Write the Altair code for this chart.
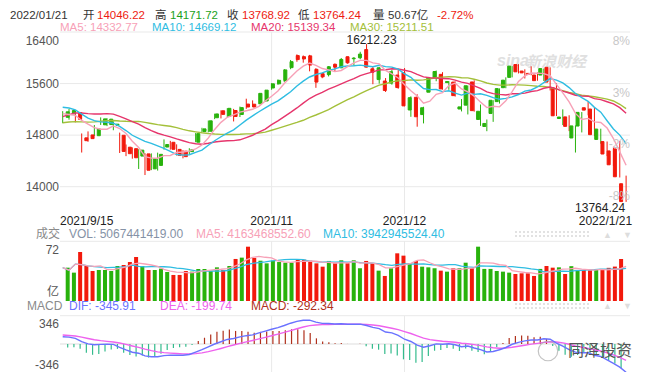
import altair as alt
import pandas as pd

# ---------------- data (NASDAQ Composite daily, 2021/9/15 - 2022/1/21) ----------------
earlier_closes = [14761.29, 14780.53, 14895.12, 14835.76, 14860.18, 14788.09, 14765.14, 14816.26,
                  14822.90, 14793.76, 14656.18, 14525.91, 14541.79, 14714.66, 14942.65, 15019.80,
                  15041.86, 14945.81, 15129.50, 15265.89, 15259.24, 15309.38, 15331.18, 15363.52,
                  15374.33, 15286.64, 15248.25, 15115.49, 15105.58, 15037.76]

opens = [15076, 15130, 15151, 14758, 14803, 14791, 14960, 14964, 14953, 14798,
         14613, 14590, 14475, 14509, 14277, 14330, 14615, 14689, 14579, 14551,
         14544, 14690, 14857, 14860, 15070, 15178, 15093, 15182, 15120, 15282,
         15280, 15287, 15330, 15531, 15596, 15648, 15847, 16034, 16017, 16030,
         15821, 15753, 15738, 15899, 15845, 16016, 15985, 16000, 16127, 15829,
         15662, 15640, 15607, 15732, 15770, 15190, 15387, 15119, 15466, 15693,
         15743, 15615, 15623, 15205, 15265, 15625, 15043, 14934, 15136, 15320,
         15536, 15696, 15895, 15794, 15758, 15733, 15732, 15852, 15535, 15058,
         15083, 14756, 14941, 15225, 15205, 14733, 14700, 14555, 14586, 14046.22]
highs = [15172, 15205, 15175, 14826, 14858, 14957, 15075, 15063, 15012, 14839,
         14655, 14610, 14581, 14520, 14517, 14528, 14734, 14711, 14657, 14568,
         14597, 14832, 14914, 15027, 15133, 15185, 15218, 15207, 15243, 15365,
         15339, 15451, 15503, 15604, 15664, 15824, 15966, 16053, 16036, 16045,
         15838, 15768, 15870, 15911, 15997, 16018, 16011, 16093, 16212.23, 15867,
         15852, 15685, 15812, 15810, 15840, 15402, 15434, 15240, 15700, 15802,
         15777, 15637, 15634, 15360, 15570, 15650, 15275, 15043, 15342, 15525,
         15697, 15871, 15901, 15821, 15868, 15772, 15833, 15852, 15609, 15200,
         15108, 14951, 15158, 15319, 15225, 14900, 14701, 14620, 14710, 14171.72]
lows = [14985, 15040, 14998, 14530, 14697, 14788, 14958, 14940, 14876, 14523,
        14474, 14435, 14275, 14181, 14257, 14250, 14575, 14575, 14484, 14440,
        14507, 14690, 14846, 14844, 15048, 15059, 15079, 15012, 15081, 15208,
        15235, 15280, 15317, 15504, 15581, 15622, 15823, 15938, 15924, 15790,
        15534, 15683, 15711, 15787, 15840, 15908, 15877, 15977, 15852, 15590,
        15600, 15470, 15583, 15520, 15248, 15084, 14931, 14982, 15466, 15636,
        15505, 15504, 15398, 15168, 15121, 15164, 14944, 14861, 15006, 15290,
        15528, 15696, 15757, 15679, 15729, 15644, 15640, 15493, 15096, 14956,
        14862, 14530, 14842, 15107, 14785, 14667, 14475, 14320, 14143, 13764.24]
closes = [15162, 15182, 15044, 14714, 14746, 14897, 15052, 15048, 14970, 14547,
          14512, 14449, 14567, 14255, 14434, 14502, 14654, 14580, 14486, 14466,
          14572, 14823, 14897, 15022, 15129, 15122, 15216, 15090, 15227, 15236,
          15236, 15448, 15498, 15596, 15650, 15812, 15940, 15972, 15982, 15887,
          15623, 15704, 15861, 15854, 15974, 15922, 15994, 16057, 15855, 15775,
          15845, 15492, 15783, 15538, 15254, 15381, 15085, 15225, 15687, 15787,
          15517, 15631, 15413, 15238, 15566, 15180, 15170, 14981, 15341, 15522,
          15653, 15871, 15782, 15766, 15742, 15645, 15833, 15623, 15100, 15081,
          14936, 14943, 15153, 15188, 14807, 14894, 14507, 14340, 14154, 13768.92]
# volume in 亿 (1e8)
volumes = [40.2, 34.2, 59.1, 42.2, 36.2, 37.4, 37.4, 36.2, 42.2, 43.4,
           47.0, 53.1, 42.2, 37.4, 37.4, 39.0, 35.0, 31.4, 31.4, 36.2,
           35.4, 38.6, 38.6, 36.2, 40.6, 37.4, 42.2, 50.7, 52.3, 65.5,
           51.9, 48.6, 45.4, 48.6, 47.0, 46.2, 46.2, 49.8, 49.8, 48.6,
           45.4, 41.4, 48.3, 45.5, 49.1, 45.5, 49.1, 39.5, 48.3, 45.5,
           36.6, 30.2, 39.5, 57.5, 54.7, 45.5, 48.3, 41.4, 40.6, 39.5,
           36.6, 35.4, 39.5, 39.5, 46.2, 39.5, 65.5, 38.7, 38.7, 36.2,
           35.4, 34.2, 32.6, 33.4, 33.4, 30.2, 38.7, 42.2, 40.2, 40.6,
           32.6, 42.0, 37.0, 37.5, 37.0, 37.5, 38.5, 40.0, 41.5, 50.67]

price_ticks = [16400, 15600, 14800, 14000]
pct_labels = ["8%", "3%", "-2%", "-8%"]
date_labels = ["2021/9/15", "2021/11", "2021/12", "2022/1/21"]
date_index = [0, 33, 54, 89]

# ---------------- derived indicators ----------------
k = len(earlier_closes)
allc = pd.Series(earlier_closes + closes, dtype=float)
def ma(w):
    return allc.rolling(w, min_periods=1).mean().iloc[k:].to_list()
ema12 = allc.ewm(span=12, adjust=False).mean()
ema26 = allc.ewm(span=26, adjust=False).mean()
dif_all = ema12 - ema26
dea_all = dif_all.ewm(span=9, adjust=False).mean()
dif = dif_all.iloc[k:].to_list()
dea = dea_all.iloc[k:].to_list()
vol = pd.Series(volumes)

n = len(closes)
df = pd.DataFrame({
    "i": list(range(n)), "o": opens, "h": highs, "l": lows, "c": closes, "v": volumes,
    "ma5": ma(5), "ma10": ma(10), "ma20": ma(20), "ma30": ma(30),
    "vma5": vol.rolling(5, min_periods=1).mean().to_list(),
    "vma10": vol.rolling(10, min_periods=1).mean().to_list(),
    "dif": dif, "dea": dea,
})
df["hist"] = 2 * (df["dif"] - df["dea"])

# ---------------- style ----------------
FONT = "Liberation Sans, Noto Sans CJK SC, sans-serif"
RED = "#f2190c"
GREEN = "#28b20c"
C_MA5 = "#f7a1b7"
C_MA10 = "#2fbde2"
C_MA20 = "#e6356c"
C_MA30 = "#a4c03a"
C_DIF = "#6a72ff"
C_DEA = "#ee62ee"
C_MUP = "#b0301c"
C_MDN = "#33bb8c"
GRID = "#e9e9e9"

XS = alt.Scale(domain=[0, 89], range=[54.7, 618.1], nice=False, zero=False)
PS = alt.Scale(domain=[14000, 16400], range=[178.7, 24], nice=False, zero=False)
VS = alt.Scale(domain=[0, 72], range=[293, 233.3], nice=False, zero=False)
MS = alt.Scale(domain=[-346, 346], range=[364.3, 307.7], nice=False, zero=False)

X = alt.X("i:Q", scale=XS, axis=None)
updown = alt.condition("datum.c >= datum.o", alt.value(GREEN), alt.value(RED))

base = alt.Chart(df)
layers = []

# gridlines
grid_df = pd.DataFrame({"v": price_ticks, "t": [str(p) for p in price_ticks], "p": pct_labels})
layers.append(alt.Chart(grid_df).mark_rule(color=GRID, strokeWidth=1).encode(
    y=alt.Y("v:Q", scale=PS, axis=None), x=alt.value(52), x2=alt.value(622)))
layers.append(alt.Chart(pd.DataFrame({"v": [72]})).mark_rule(color=GRID).encode(
    y=alt.Y("v:Q", scale=VS, axis=None), x=alt.value(52), x2=alt.value(622)))
layers.append(alt.Chart(pd.DataFrame({"v": [346]})).mark_rule(color=GRID).encode(
    y=alt.Y("v:Q", scale=MS, axis=None), x=alt.value(52), x2=alt.value(622)))
layers.append(alt.Chart(pd.DataFrame({"v": [0]})).mark_rule(color="#dddddd").encode(
    y=alt.Y("v:Q", scale=MS, axis=None), x=alt.value(52), x2=alt.value(622)))
vg = pd.DataFrame({"i": [33, 54] * 3,
                   "y1": [24, 24, 233, 233, 308, 308],
                   "y2": [206, 206, 293, 293, 364, 364]})
layers.append(alt.Chart(vg).mark_rule(color=GRID).encode(
    x=alt.X("i:Q", scale=XS, axis=None),
    y=alt.Y("y1:Q", scale=None), y2="y2:Q"))

# sina watermark
wm = pd.DataFrame({"t": ["sina", "新浪财经"], "x": [489, 518], "y": [53, 54], "s": [16, 15]})
layers.append(alt.Chart(wm).mark_text(font=FONT, fontStyle="italic", fontWeight="bold",
                                       color="#e0e0e0", align="left", baseline="middle").encode(
    x=alt.X("x:Q", scale=None), y=alt.Y("y:Q", scale=None), text="t:N",
    size=alt.Size("s:Q", scale=None)))

# candles
layers.append(base.mark_rule(strokeWidth=1).encode(
    x=X, y=alt.Y("l:Q", scale=PS, axis=None), y2="h:Q", color=updown))
layers.append(base.mark_bar(size=3, strokeWidth=1).encode(
    x=X, y=alt.Y("o:Q", scale=PS, axis=None), y2="c:Q", color=updown, stroke=updown))

# moving averages
for col, colr in [("ma30", C_MA30), ("ma20", C_MA20), ("ma10", C_MA10), ("ma5", C_MA5)]:
    layers.append(base.mark_line(color=colr, strokeWidth=1.4).encode(
        x=X, y=alt.Y(f"{col}:Q", scale=PS, axis=None)))

# volume
layers.append(base.mark_bar(size=4).encode(
    x=X, y=alt.Y("v:Q", scale=VS, axis=None), y2=alt.datum(0), color=updown))
for col, colr in [("vma10", C_MA10), ("vma5", C_MA5)]:
    layers.append(base.mark_line(color=colr, strokeWidth=1.3).encode(
        x=X, y=alt.Y(f"{col}:Q", scale=VS, axis=None)))

# MACD
layers.append(base.mark_bar(size=1.2).encode(
    x=X, y=alt.Y("hist:Q", scale=MS, axis=None), y2=alt.datum(0),
    color=alt.condition("datum.hist >= 0", alt.value(C_MUP), alt.value(C_MDN))))
for col, colr in [("dea", C_DEA), ("dif", C_DIF)]:
    layers.append(base.mark_line(color=colr, strokeWidth=1.4).encode(
        x=X, y=alt.Y(f"{col}:Q", scale=MS, axis=None)))

# axis labels (left)
def lab(data, scale, dy, text, color="#555555", align="right", x=51):
    return alt.Chart(data).mark_text(font=FONT, fontSize=12, color=color, align=align,
                                     baseline="middle", dy=dy).encode(
        y=alt.Y("v:Q", scale=scale, axis=None), x=alt.value(x), text=f"{text}:N")

layers.append(lab(grid_df.iloc[:1], PS, 9, "t"))
layers.append(lab(grid_df.iloc[1:], PS, 0, "t"))
layers.append(lab(grid_df, PS, 9, "p", color="#c8c8c8", x=622))
layers.append(lab(pd.DataFrame({"v": [72], "t": ["72"]}), VS, 9, "t"))
layers.append(lab(pd.DataFrame({"v": [0], "t": ["亿"]}), VS, -9, "t"))
layers.append(lab(pd.DataFrame({"v": [346], "t": ["346"]}), MS, 8, "t"))
layers.append(lab(pd.DataFrame({"v": [-346], "t": ["-346"]}), MS, -7, "t"))

# date labels
dl = pd.DataFrame({"i": date_index, "t": date_labels})
for j, (al, dx) in enumerate([("left", -2.7), ("center", 0), ("center", 0), ("right", 6)]):
    layers.append(alt.Chart(dl.iloc[j:j + 1]).mark_text(
        font=FONT, fontSize=12, color="#222222", align=al, baseline="middle", dx=dx).encode(
        x=alt.X("i:Q", scale=XS, axis=None), y=alt.value(212.5), text="t:N"))

# high / low annotations
hi_df = pd.DataFrame({"i": [48], "v": [highs[48]], "t": [f"{highs[48]:.2f}"]})
lo_df = pd.DataFrame({"i": [89], "v": [lows[89]], "t": [f"{lows[89]:.2f}"]})
layers.append(alt.Chart(hi_df).mark_text(font=FONT, fontSize=12, color="#222222", align="center",
                                          baseline="middle", dx=5, dy=-4.5).encode(
    x=alt.X("i:Q", scale=XS, axis=None), y=alt.Y("v:Q", scale=PS, axis=None), text="t:N"))
layers.append(alt.Chart(lo_df).mark_text(font=FONT, fontSize=12, color="#222222", align="right",
                                          baseline="middle", dx=-1, dy=6).encode(
    x=alt.X("i:Q", scale=XS, axis=None), y=alt.Y("v:Q", scale=PS, axis=None), text="t:N"))

# header texts
DARK = "#333333"
TR = "#ee1c10"
TG = "#1aa11a"
header_r1 = [
    ("2022/01/21", 2, DARK), ("开", 75, DARK), ("14046.22", 89, TR),
    ("高", 147, DARK), ("14171.72", 162, TG), ("收", 219, DARK),
    ("13768.92", 234, TR), ("低", 290, DARK), ("13764.24", 305, TR),
    ("量", 365, DARK), ("50.67亿", 380, DARK), ("-2.72%", 429, TR),
]
h1 = pd.DataFrame(header_r1, columns=["t", "x", "col"])
layers.append(alt.Chart(h1).mark_text(font=FONT, fontSize=11.5, align="left", baseline="top").encode(
    x=alt.X("x:Q", scale=None), y=alt.value(1.5), text="t:N",
    color=alt.Color("col:N", scale=None)))

R2 = 19.5
header = [
    ("MA5: 14332.77", 52, R2, C_MA5, 11.5), ("MA10: 14669.12", 144, R2, C_MA10, 11.5),
    ("MA20: 15139.34", 243, R2, C_MA20, 11.5), ("MA30: 15211.51", 342, R2, C_MA30, 11.5),
    ("成交", 28, 225.5, "#8a8a8a", 12), ("VOL: 5067441419.00", 61, 225.5, "#8592a6", 12),
    ("MA5: 4163468552.60", 188, 225.5, C_MA5, 12), ("MA10: 3942945524.40", 315, 225.5, C_MA10, 12),
    ("MACD", 19, 298, "#8a8a8a", 12), ("DIF: -345.91", 61, 298, C_DIF, 12),
    ("DEA: -199.74", 152, 298, C_DEA, 12), ("MACD: -292.34", 243, 298, C_MUP, 12),
    ("▲", 595, 227, "#dddddd", 9), ("▼", 615, 227, "#dddddd", 9),
    ("▲", 595, 298, "#dddddd", 9), ("▼", 615, 298, "#dddddd", 9),
    ("同泽投资", 560, 343, "#555555", 16),
]
hdf = pd.DataFrame(header, columns=["t", "x", "y", "col", "s"])
layers.append(alt.Chart(hdf).mark_text(font=FONT, align="left", baseline="middle").encode(
    x=alt.X("x:Q", scale=None), y=alt.Y("y:Q", scale=None), text="t:N",
    color=alt.Color("col:N", scale=None), size=alt.Size("s:Q", scale=None)))

# dotted controls
dots = pd.DataFrame({"y": [224, 228, 296, 300]})
layers.append(alt.Chart(dots).mark_rule(color="#e2e2e2", strokeWidth=2, strokeDash=[2, 2]).encode(
    y=alt.Y("y:Q", scale=None), x=alt.value(507), x2=alt.value(582)))

# wechat logo circle
layers.append(alt.Chart(pd.DataFrame({"x": [540], "y": [343]})).mark_point(
    shape="circle", size=380, filled=False, color="#aaaaaa", strokeWidth=1.2).encode(
    x=alt.X("x:Q", scale=None), y=alt.Y("y:Q", scale=None)))

chart = alt.layer(*layers).resolve_scale(
    x="independent", y="independent", color="independent", stroke="independent", size="independent"
).properties(width=636, height=364, padding=0, autosize=alt.AutoSizeParams(type="none")
).configure_view(stroke=None)

chart.save("out.html", embed_options={"renderer": "svg", "actions": False})
